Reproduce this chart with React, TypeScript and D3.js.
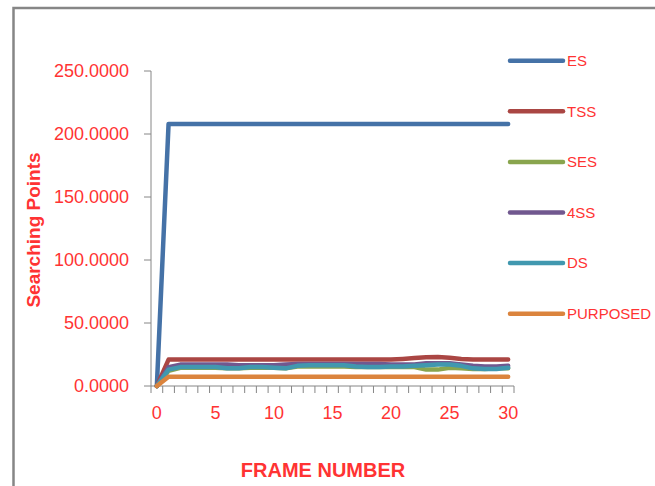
import * as d3 from "d3";

const frames = d3.range(0, 31);
const xTickLabels = [0, 5, 10, 15, 20, 25, 30];
const yTicks = [0, 50, 100, 150, 200, 250];

const es = [0, ...Array(30).fill(208)];
const tss = [0, 21, 21, 21, 21, 21, 21, 21, 21, 21, 21, 21, 21, 21, 21, 21, 21, 21, 21, 21, 21, 21.5, 22.2, 22.8, 23, 22.5, 21.5, 21, 21, 21, 21];
const ses = [0, 12, 14.5, 14.5, 14.5, 14.5, 14, 14, 14.5, 14.5, 14.5, 14, 15.5, 15.5, 15.5, 15.5, 15.5, 15, 15, 15, 15, 15, 15, 13, 13, 14.5, 14, 13.5, 13.5, 14, 14];
const fourSS = [0, 15, 17, 17, 17, 17, 17, 16.5, 16.5, 16.5, 16.5, 17, 17.5, 17.5, 17.5, 17.5, 17.5, 17.5, 17.5, 17.5, 17, 17, 17, 18, 18, 18, 17, 16, 15.5, 15.5, 16];
const ds = [0, 13, 15, 15, 15, 15, 14, 14, 15, 15, 14.5, 14, 16, 16.5, 16.5, 16.5, 16.5, 15.5, 15, 15, 15.5, 15.5, 16, 16.5, 17, 17, 16, 14, 13.5, 13.5, 14.5];
const purposed = [0, ...Array(30).fill(7.3)];

const series = [
  { name: "ES", values: es, color: "#4572A7" },
  { name: "TSS", values: tss, color: "#AA4643" },
  { name: "SES", values: ses, color: "#89A54E" },
  { name: "4SS", values: fourSS, color: "#71588F" },
  { name: "DS", values: ds, color: "#4198AF" },
  { name: "PURPOSED", values: purposed, color: "#DB843D" },
];

const W = 655;
const H = 486;
const textRed = "#FF3333";
const axisGray = "#868686";
const font = "'Liberation Sans', Arial, sans-serif";

export default function App() {
  const x = d3.scaleBand<number>().domain(frames).range([151, 514]);
  const y = d3.scaleLinear().domain([0, 250]).range([386, 71]);
  const cx = (f: number) => (x(f) ?? 0) + x.bandwidth() / 2;

  const line = d3
    .line<number>()
    .x((_, i) => cx(frames[i]))
    .y(d => y(d));

  const [x0, x1] = x.range();

  return (
    <div style={{ position: "fixed", left: 0, top: 0 }}>
      <svg width={W} height={H} style={{ display: "block", background: "#fff" }}>
        {/* outer chart frame */}
        <rect x={13.5} y={8} width={W + 20} height={H + 20} fill="#fff" stroke={axisGray} strokeWidth={2.5} />

        {/* y axis */}
        <line x1={x0} x2={x0} y1={y(250)} y2={y(0)} stroke={axisGray} strokeWidth={1} />
        {yTicks.map(t => (
          <g key={t}>
            <line x1={x0 - 7} x2={x0} y1={y(t)} y2={y(t)} stroke={axisGray} strokeWidth={1} />
            <text
              x={129}
              y={y(t)}
              dy="0.35em"
              textAnchor="end"
              fill={textRed}
              fontSize={18}
              fontFamily={font}
            >
              {t.toFixed(4)}
            </text>
          </g>
        ))}

        {/* x axis */}
        <line x1={x0} x2={x1} y1={y(0)} y2={y(0)} stroke={axisGray} strokeWidth={1} />
        {d3.range(0, frames.length + 1).map(i => (
          <line
            key={i}
            x1={x0 + i * x.step()}
            x2={x0 + i * x.step()}
            y1={y(0)}
            y2={y(0) + 7}
            stroke={axisGray}
            strokeWidth={1}
          />
        ))}
        {xTickLabels.map(t => (
          <text
            key={t}
            x={cx(t)}
            y={413}
            dy="0.35em"
            textAnchor="middle"
            fill={textRed}
            fontSize={18}
            fontFamily={font}
          >
            {t}
          </text>
        ))}

        {/* series */}
        {series.map(s => (
          <path
            key={s.name}
            d={line(s.values) ?? ""}
            fill="none"
            stroke={s.color}
            strokeWidth={4.5}
            strokeLinejoin="round"
            strokeLinecap="round"
          />
        ))}

        {/* axis titles */}
        <text
          transform="translate(40,230) rotate(-90)"
          textAnchor="middle"
          fill={textRed}
          fontSize={19}
          fontWeight="bold"
          fontFamily={font}
        >
          Searching Points
        </text>
        <text
          x={323}
          y={477}
          textAnchor="middle"
          fill={textRed}
          fontSize={20}
          fontWeight="bold"
          fontFamily={font}
        >
          FRAME NUMBER
        </text>

        {/* legend */}
        {series.map((s, i) => {
          const ly = 60.7 + i * 50.6;
          return (
            <g key={s.name}>
              <line x1={510} x2={563} y1={ly} y2={ly} stroke={s.color} strokeWidth={4.5} strokeLinecap="round" />
              <text x={567} y={ly} dy="0.35em" fill={textRed} fontSize={15} fontFamily={font}>
                {s.name}
              </text>
            </g>
          );
        })}
      </svg>
    </div>
  );
}
